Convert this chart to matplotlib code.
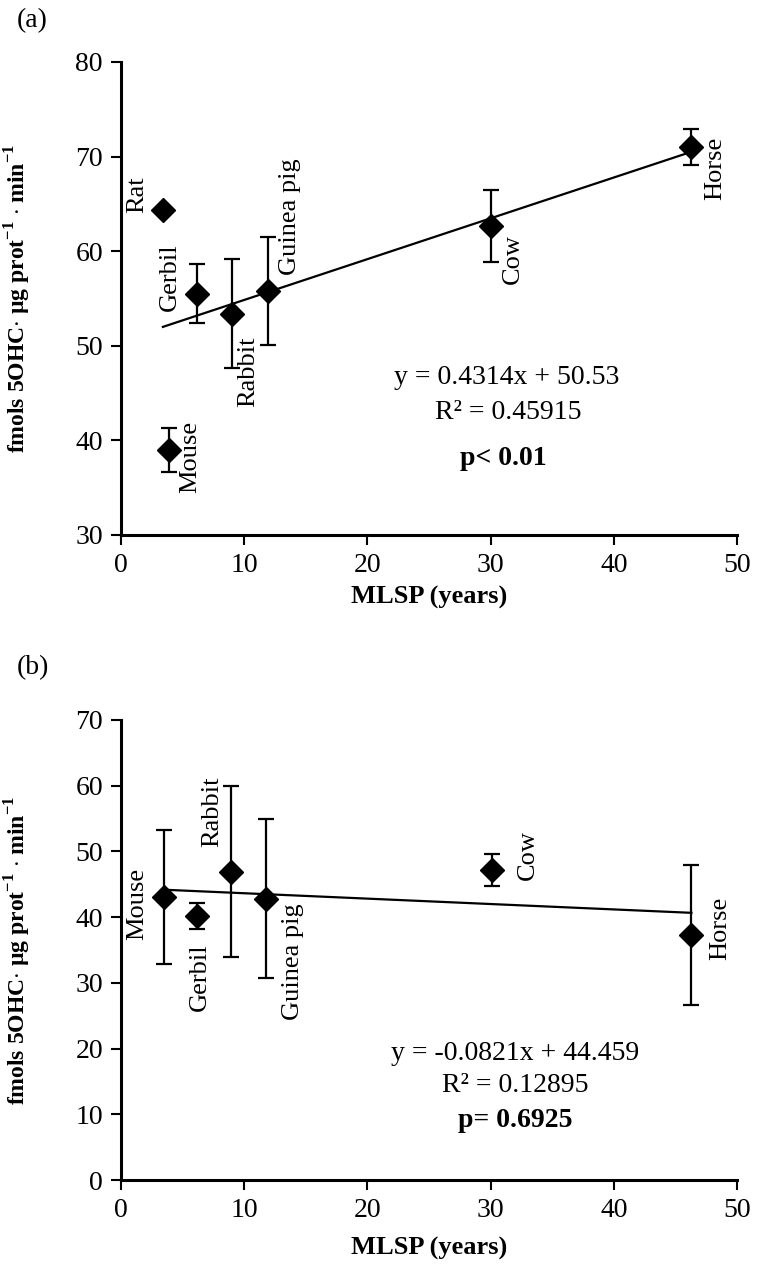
import matplotlib
matplotlib.use("Agg")
import numpy as np
import matplotlib.pyplot as plt

plt.rcParams['font.family'] = ['Liberation Serif', 'DejaVu Serif']
plt.rcParams['mathtext.fontset'] = 'custom'
plt.rcParams['mathtext.rm'] = 'Liberation Serif'
plt.rcParams['mathtext.bf'] = 'Liberation Serif:bold'

# Panel (a) data
species_a = ["Rat", "Mouse", "Gerbil", "Rabbit", "Guinea pig", "Cow", "Horse"]
mlsp_a = [3.4, 3.9, 6.2, 9.0, 11.9, 30.0, 46.3]
act_a = [64.4, 39.0, 55.5, 53.4, 55.8, 62.7, 71.05]
err_a = [0.0, 2.3, 3.1, 5.8, 5.7, 3.8, 1.9]
slope_a, icpt_a = 0.4314, 50.53
# label anchors (data coords)
lab_x_a = [1.3, 5.6, 4.0, 10.3, 13.7, 31.8, 48.2]
lab_y_a = [66.0, 38.2, 57.3, 47.3, 63.6, 59.2, 68.7]

# Panel (b) data
species_b = ["Mouse", "Gerbil", "Rabbit", "Guinea pig", "Cow", "Horse"]
mlsp_b = [3.5, 6.2, 8.9, 11.8, 30.1, 46.3]
act_b = [43.1, 40.2, 46.9, 42.8, 47.2, 37.3]
err_b = [10.2, 2.0, 13.0, 12.1, 2.4, 10.6]
slope_b, icpt_b = -0.0821, 44.459
lab_x_b = [1.3, 6.4, 7.4, 14.0, 33.0, 48.6]
lab_y_b = [42.0, 30.9, 56.0, 33.2, 49.5, 38.3]

ylab = r'fmols 5OHC$\cdot$ µg prot$^{\mathbf{-1}}$ $\cdot$ min$^{\mathbf{-1}}$'

fig = plt.figure(figsize=(7.62, 12.75), dpi=100)
ax_a = fig.add_axes([0.1588, 0.5804, 0.8084, 0.371])
ax_b = fig.add_axes([0.1588, 0.0745, 0.8084, 0.3608])


def draw_panel(ax, x, y, err, names, lx, ly, slope, icpt, ylim, yticks, texts, tpos, xpad):
    ax.errorbar(x, y, yerr=err, fmt='D', color='black', markersize=12.5,
                ecolor='black', elinewidth=1.6, capsize=6, capthick=1.6, zorder=3)
    xs = np.array([min(x), max(x)])
    ax.plot(xs, slope * xs + icpt, color='black', linewidth=1.6, zorder=2)
    for name, tx, ty in zip(names, lx, ly):
        ax.text(tx, ty, name, rotation=90, ha='center', va='center', fontsize=19)
    ax.set_xlim(0, 50)
    ax.set_ylim(*ylim)
    ax.set_xticks(range(0, 51, 10))
    ax.set_yticks(yticks)
    for s in ['top', 'right']:
        ax.spines[s].set_visible(False)
    for s in ['left', 'bottom']:
        ax.spines[s].set_linewidth(2.2)
    ax.tick_params(direction='out', length=7, width=1.5, labelsize=20, pad=6)
    ax.set_xlabel('MLSP (years)', fontsize=19, fontweight='bold', labelpad=xpad)
    ax.set_ylabel(ylab, fontsize=17, fontweight='bold')
    ax.yaxis.set_label_coords(-0.143, 0.5)
    for (t, bold), (px, py) in zip(texts, tpos):
        ax.text(px, py, t, ha='center', va='center', fontsize=20,
                fontweight='bold' if bold else 'normal')


draw_panel(ax_a, mlsp_a, act_a, err_a, species_a, lab_x_a, lab_y_a, slope_a, icpt_a,
           (30, 80), range(30, 81, 10),
           [("y = 0.4314x + 50.53", False), ("R² = 0.45915", False), ("p< 0.01", True)],
           [(31.3, 46.6), (31.4, 43.0), (31.0, 38.1)], 6)
draw_panel(ax_b, mlsp_b, act_b, err_b, species_b, lab_x_b, lab_y_b, slope_b, icpt_b,
           (0, 70), range(0, 71, 10),
           [("y = -0.0821x + 44.459", False), ("R² = 0.12895", False), ("p= 0.6925", True)],
           [(32.0, 19.3), (32.0, 14.4), (32.0, 9.1)], 10)

fig.text(0.022, 0.984, "(a)", fontsize=20, ha='left', va='center')
fig.text(0.022, 0.476, "(b)", fontsize=20, ha='left', va='center')

fig.savefig("out.png", dpi=100)
